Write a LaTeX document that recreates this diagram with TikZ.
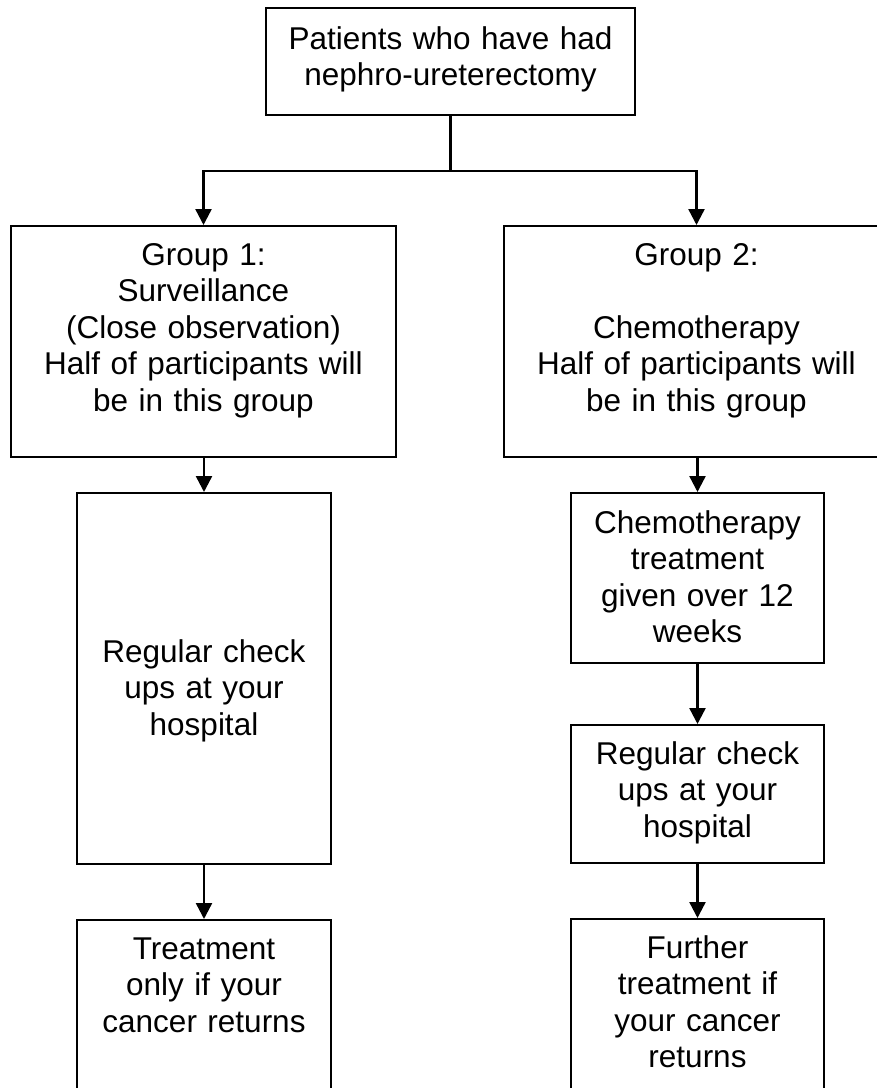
\documentclass[tikz,border=0pt]{standalone}
\usepackage{fontspec}
\setmainfont{Liberation Sans}
\usetikzlibrary{arrows.meta,calc}

\begin{document}
\begin{tikzpicture}[x=1pt, y=-1pt,
        box/.style={draw, line width=2pt, anchor=north, inner sep=0pt, align=center,
            font=\fontsize{31.5}{36.5}\selectfont},
        arr/.style={line width=2.4pt, -{Triangle[width=16pt,length=16pt]}}]
            \useasboundingbox (0,0) rectangle (877,1088);

            % top of the tree
            \node[box, text width=369pt, text height=41pt, text depth=66pt] (patients) at (450.5,7)
                {Patients who have had\\nephro-ureterectomy};

            % the two groups
            \node[box, text width=385pt, text height=39pt, text depth=192pt] (group1) at (203.5,225)
                {Group 1:\\Surveillance\\(Close observation)\\Half of participants will\\be in this group};
            \node[box, text width=385pt, text height=39pt, text depth=192pt] (group2) at (696.5,225)
                {Group 2:\\[36.5pt]Chemotherapy\\Half of participants will\\be in this group};

            % left column
            \node[box, text width=254pt, text height=169pt, text depth=202pt] (checkleft) at (204,492)
                {Regular check\\ups at your\\hospital};
            \node[box, text width=254pt, text height=39pt, text depth=150pt] (treatleft) at (204,919)
                {Treatment\\only if your\\cancer returns};

            % right column
            \node[box, text width=253pt, text height=40pt, text depth=130pt] (chemo) at (697.5,492)
                {Chemotherapy\\treatment\\given over 12\\weeks};
            \node[box, text width=253pt, text height=39pt, text depth=99pt] (checkright) at (697.5,724)
                {Regular check\\ups at your\\hospital};
            \node[box, text width=253pt, text height=39pt, text depth=150pt] (treatright) at (697.5,918)
                {Further\\treatment if\\your cancer\\returns};

            \coordinate (split) at ($(patients.south)+(0,55)$);
            \draw[line width=2.4pt] (patients.south) -- (split);
            \draw[arr] (split) -| (group1.north);
            \draw[arr] (split) -| (group2.north);

            \draw[arr] (group1.south -| checkleft.north) -- (checkleft.north);
            \draw[arr] (checkleft.south) -- (treatleft.north);
            \draw[arr] (group2.south -| chemo.north) -- (chemo.north);
            \draw[arr] (chemo.south) -- (checkright.north);
            \draw[arr] (checkright.south) -- (treatright.north);
        \end{tikzpicture}
\end{document}
